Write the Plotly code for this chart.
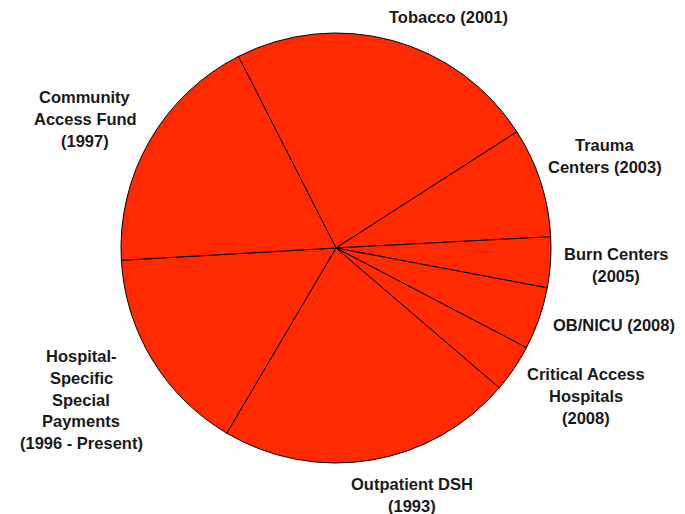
import plotly.graph_objects as go

categories = ["Tobacco (2001)", "Trauma Centers (2003)", "Burn Centers (2005)",
              "OB/NICU (2008)", "Critical Access Hospitals (2008)",
              "Outpatient DSH (1993)", "Hospital-Specific Special Payments (1996 - Present)",
              "Community Access Fund (1997)"]
values = [23.4, 8.25, 3.8, 4.7, 3.6, 22.2, 15.6, 18.4]

label_lines = [
    ["Tobacco (2001)"],
    ["Trauma", "Centers (2003)"],
    ["Burn Centers", "(2005)"],
    ["OB/NICU (2008)"],
    ["Critical Access", "Hospitals", "(2008)"],
    ["Outpatient DSH", "(1993)"],
    ["Hospital-", "Specific", "Special", "Payments", "(1996 - Present)"],
    ["Community", "Access Fund", "(1997)"],
]

W, H = 685, 514
# label block anchors (pixel centre x, first-line centre y)
label_pos = [(448, 17), (605, 145), (616, 254), (614, 325), (586, 374),
             (412, 484), (81, 356), (85, 97)]
line_gap = 21.8

fig = go.Figure(go.Pie(
    labels=categories,
    values=values,
    sort=False,
    direction="clockwise",
    rotation=333,
    marker=dict(colors=["#FF2A00"] * len(values), line=dict(color="#000000", width=1)),
    textinfo="none",
    hoverinfo="label+percent",
    showlegend=False,
    domain=dict(x=[121 / W, 551 / W], y=[(266 - 215) / H, (266 + 215) / H]),
))

annotations = []
for lines, (px, py) in zip(label_lines, label_pos):
    for i, t in enumerate(lines):
        annotations.append(dict(
            x=px / W, y=1 - (py + i * line_gap) / H, xref="paper", yref="paper",
            text="<b>" + t + "</b>", showarrow=False, xanchor="center", yanchor="middle",
            font=dict(family="Liberation Sans, Arial, sans-serif", size=16.5, color="#1a1a1a"),
        ))

fig.update_layout(
    width=W, height=H,
    margin=dict(l=0, r=0, t=0, b=0),
    paper_bgcolor="white", plot_bgcolor="white",
    annotations=annotations,
)
fig.write_html("out.html", config={"displayModeBar": False})

with open("out.html", "r", encoding="utf-8") as f:
    html = f.read()
html = html.replace("<head>", "<head><style>html,body{margin:0;padding:0;overflow:hidden;}</style>", 1)
with open("out.html", "w", encoding="utf-8") as f:
    f.write(html)
